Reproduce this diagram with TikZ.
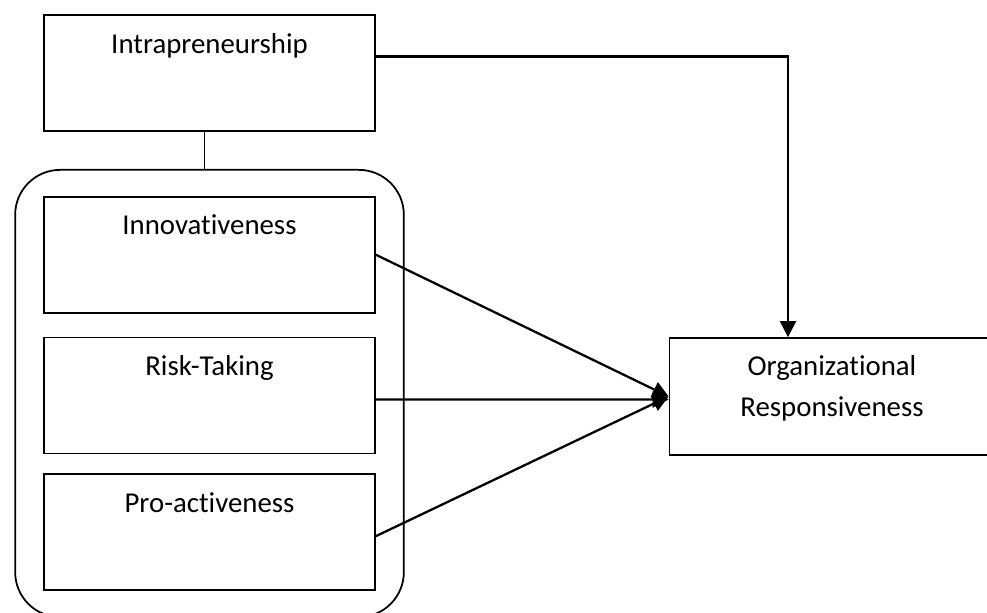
\documentclass[tikz,border=0pt]{standalone}
\usepackage{fontspec}
\setmainfont{Carlito}[Ligatures=NoCommon]
\usetikzlibrary{positioning,fit,arrows.meta}
\tikzset{factor box/.style={rectangle,draw,line width=1pt,inner sep=0pt,minimum width=6.62cm,
		text height=0.76cm,text depth=1.56cm,font=\fontsize{16.4}{22}\selectfont},
	link/.style={line width=1.3pt,-{Triangle[length=0.32cm,width=0.32cm]}},
}

\begin{document}
\begin{tikzpicture}[x=0.02cm,y=-0.02cm]
				\useasboundingbox (0,0) rectangle (987,612);
				\node[factor box] (intra) at (209.5,73) {Intrapreneurship};
				\node[factor box] (innov) [below =1.28cm of intra] {Innovativeness};
				\node[factor box] (risk) [below = 0.46cm of innov] {Risk-Taking};
				\node[factor box] (pro) [below = 0.38cm of risk] {Pro-activeness};
				\node[draw,line width=1pt,rounded corners=0.9cm,inner xsep=0.56cm,inner ysep=0.52cm,fit=(innov)(pro)] (group) {};
				\node[factor box,minimum width=6.5cm,text height=1.56cm,text depth=0.78cm,align=center,
					font=\fontsize{16.4}{22.8}\selectfont] (org) at (832,396.5) {Organizational\\Responsiveness};
				
				\draw[line width=1pt] ([xshift=-0.1cm]intra.south) -- ([xshift=-0.1cm]intra.south |- group.north);
				\draw[link] ([yshift=0.33cm]intra.east) -| ([xshift=-0.88cm]org.north);
				\draw[link] (innov.east) -- (org.west);
				\draw[link] ([yshift=-0.08cm]risk.east) -- ([yshift=-0.06cm]org.west);
				\draw[link] ([yshift=-0.08cm]pro.east) -- (org.west);
				
			\end{tikzpicture}
\end{document}
